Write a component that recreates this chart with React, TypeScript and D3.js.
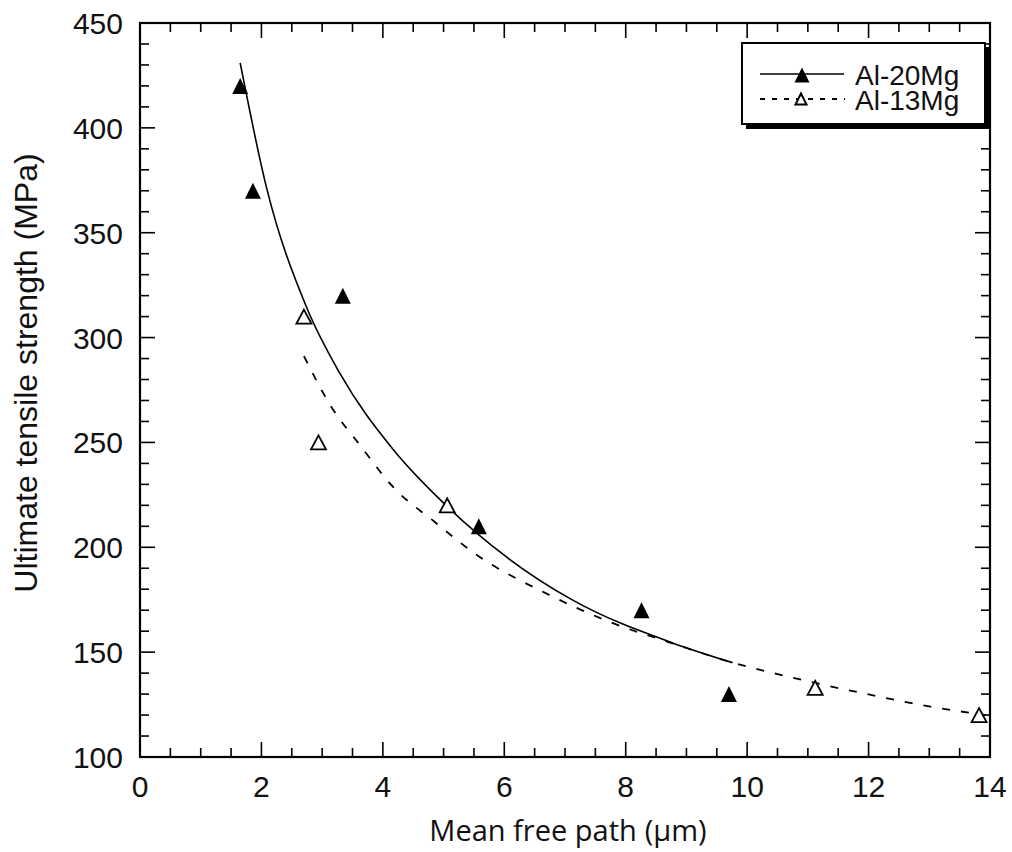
import React from "react";
import * as d3 from "d3";

// Measured tensile strength vs. mean free path
const al20Path = [1.65, 1.86, 3.34, 5.58, 8.26, 9.7];
const al20Uts = [420, 370, 320, 210, 170, 130];

const al13Path = [2.7, 2.94, 5.06, 11.12, 13.82];
const al13Uts = [310, 250, 220, 133, 120];

// Fitted trend curves (sampled along each curve)
const al20FitPath = [1.65, 2.08, 2.74, 3.29, 4.16, 5.04, 6.03, 7.12, 8.77, 9.76];
const al20FitUts = [431, 372, 314.7, 283, 247, 220, 195.5, 174.9, 154.4, 145];

const al13FitPath = [2.7, 3.15, 3.62, 4.19, 4.85, 5.51, 6.74, 7.79, 8.77, 9.76, 10.75, 12.04, 13.02, 13.93];
const al13FitUts = [291.2, 267, 248.8, 228.1, 212.2, 197.1, 177.3, 163.8, 154.2, 145, 137.8, 129.6, 124, 120];

const xMajorTicks = [0, 2, 4, 6, 8, 10, 12, 14];
const yMajorTicks = [100, 150, 200, 250, 300, 350, 400, 450];
const legendLabels = ["Al-20Mg", "Al-13Mg"];

const W = 1012;
const H = 852;
const FONT = "'Liberation Sans', Arial, Helvetica, sans-serif";

const x = d3.scaleLinear().domain([0, 14]).range([140, 990]);
const y = d3.scaleLinear().domain([100, 450]).range([757, 23]);

const xMinor = d3.range(0, 14.001, 0.5).filter((v) => Math.abs(v % 2) > 1e-6);
const yMinor = d3.range(100, 450.001, 10).filter((v) => Math.abs(v % 50) > 1e-6);

function tri(cx: number, cy: number, w: number, h: number) {
  return `M${cx},${cy - h / 2}L${cx + w / 2},${cy + h / 2}L${cx - w / 2},${cy + h / 2}Z`;
}

export default function App() {
  const [x0, x1] = x.range();
  const [y0, y1] = y.range(); // y0 bottom, y1 top
  const MAJ = 15;
  const MIN = 9;

  const line = d3
    .line<[number, number]>()
    .x((d) => x(d[0]))
    .y((d) => y(d[1]))
    .curve(d3.curveMonotoneX);

  const solidPts = al20FitPath.map((v, i) => [v, al20FitUts[i]] as [number, number]);
  const dashPts = al13FitPath.map((v, i) => [v, al13FitUts[i]] as [number, number]);

  const tickStroke = { stroke: "#000", strokeWidth: 1.6 };

  return (
    <svg
      width={W}
      height={H}
      viewBox={`0 0 ${W} ${H}`}
      style={{ position: "absolute", left: 0, top: 0, background: "#fff" }}
    >
      <rect x={0} y={0} width={W} height={H} fill="#fff" />

      {/* ticks on all four sides, pointing inward */}
      <g>
        {xMajorTicks.map((t) => (
          <g key={`xM${t}`}>
            <line x1={x(t)} x2={x(t)} y1={y0} y2={y0 - MAJ} {...tickStroke} />
            <line x1={x(t)} x2={x(t)} y1={y1} y2={y1 + MAJ} {...tickStroke} />
          </g>
        ))}
        {xMinor.map((t) => (
          <g key={`xm${t}`}>
            <line x1={x(t)} x2={x(t)} y1={y0} y2={y0 - MIN} {...tickStroke} />
            <line x1={x(t)} x2={x(t)} y1={y1} y2={y1 + MIN} {...tickStroke} />
          </g>
        ))}
        {yMajorTicks.map((t) => (
          <g key={`yM${t}`}>
            <line x1={x0} x2={x0 + MAJ} y1={y(t)} y2={y(t)} {...tickStroke} />
            <line x1={x1} x2={x1 - MAJ} y1={y(t)} y2={y(t)} {...tickStroke} />
          </g>
        ))}
        {yMinor.map((t) => (
          <g key={`ym${t}`}>
            <line x1={x0} x2={x0 + MIN} y1={y(t)} y2={y(t)} {...tickStroke} />
            <line x1={x1} x2={x1 - MIN} y1={y(t)} y2={y(t)} {...tickStroke} />
          </g>
        ))}
      </g>

      {/* plot frame */}
      <rect
        x={x0}
        y={y1}
        width={x1 - x0}
        height={y0 - y1}
        fill="none"
        stroke="#000"
        strokeWidth={2.2}
      />

      {/* tick labels */}
      <g fontFamily={FONT} fontSize={30} fill="#111">
        {xMajorTicks.map((t) => (
          <text key={`xl${t}`} x={x(t)} y={797} textAnchor="middle">
            {t}
          </text>
        ))}
        {yMajorTicks.map((t) => (
          <text key={`yl${t}`} x={123} y={y(t) + 11} textAnchor="end">
            {t}
          </text>
        ))}
      </g>

      {/* axis titles */}
      <text
        x={568}
        y={841}
        textAnchor="middle"
        fontFamily="'Open Sans', 'Noto Sans', sans-serif"
        fontSize={29}
        fill="#111"
      >
        Mean free path<tspan dx={8}>(μm)</tspan>
      </text>
      <text
        transform={`translate(37,${373}) rotate(-90)`}
        textAnchor="middle"
        fontFamily={FONT}
        fontSize={32}
        fill="#111"
      >
        Ultimate tensile strength (MPa)
      </text>

      {/* trend curves */}
      <path d={line(solidPts) || ""} fill="none" stroke="#000" strokeWidth={1.6} />
      <path
        d={line(dashPts) || ""}
        fill="none"
        stroke="#000"
        strokeWidth={1.8}
        strokeDasharray="8,11"
      />

      {/* data points */}
      {al20Path.map((v, i) => (
        <path key={`a20${i}`} d={tri(x(v), y(al20Uts[i]), 16, 16)} fill="#000" />
      ))}
      {al13Path.map((v, i) => (
        <path
          key={`a13${i}`}
          d={tri(x(v), y(al13Uts[i]), 15, 14)}
          fill="#fff"
          stroke="#000"
          strokeWidth={1.8}
          strokeLinejoin="miter"
        />
      ))}

      {/* legend */}
      <g>
        <rect x={746} y={47} width={244} height={82} fill="#000" />
        <rect x={742} y={43} width={243} height={81} fill="#fff" stroke="#000" strokeWidth={2} />
        <line x1={760} x2={844} y1={74} y2={74} stroke="#000" strokeWidth={1.6} />
        <path d={tri(802, 75, 15, 15)} fill="#000" />
        <line
          x1={760}
          x2={845}
          y1={99}
          y2={99}
          stroke="#000"
          strokeWidth={1.8}
          strokeDasharray="5,7"
        />
        <path d={tri(801, 99, 11, 11)} fill="#fff" stroke="#000" strokeWidth={2} />
        <text x={855} y={85} fontFamily={FONT} fontSize={28} fill="#111">
          {legendLabels[0]}
        </text>
        <text x={855} y={110} fontFamily={FONT} fontSize={28} fill="#111">
          {legendLabels[1]}
        </text>
      </g>
    </svg>
  );
}
